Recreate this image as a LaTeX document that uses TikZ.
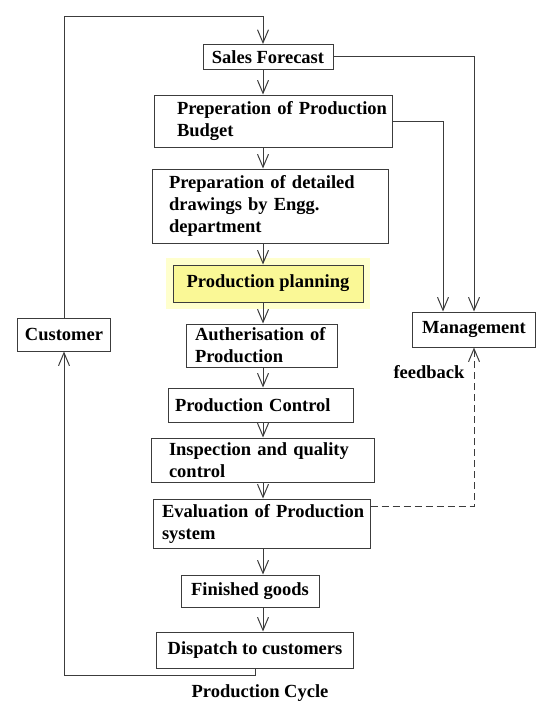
\documentclass[tikz,border=0pt]{standalone}
\usepackage{fontspec}
\setmainfont{Liberation Serif}
\usetikzlibrary{arrows.meta,positioning}
\definecolor{linegray}{RGB}{60,60,60}
\definecolor{planyellow}{RGB}{250,248,150}
\definecolor{planglow}{RGB}{255,255,205}

\begin{document}
\begin{tikzpicture}[x=1pt, y=-1pt, >={Straight Barb[length=13pt,width=11pt]},
    every node/.style={font=\bfseries\fontsize{18.5}{22}\selectfont},
    stage/.style={draw=linegray, line width=1pt, fill=white, inner sep=0pt, align=left},
    flow/.style={->, draw=linegray, line width=1pt}]
\useasboundingbox (0,0) rectangle (555,709);

    % Main column
    \node[stage, minimum width=130pt, minimum height=25pt] (sales) at (268,57) {Sales Forecast};
    \node[stage, minimum width=238pt, minimum height=52pt, text width=192pt] (budget) at (273,121) {\mbox{Preperation of Production}\\Budget};
    \node[stage, minimum width=236pt, minimum height=74pt, text width=202pt] (drawings) at (270,206) {Preparation of detailed\\drawings by Engg.\\department};
    \node[stage, fill=planyellow, preaction={draw=planglow, line width=14pt}, minimum width=190pt, minimum height=37pt] (planning) at (268,283.5) {Production planning};
    \node[stage, minimum width=151pt, minimum height=43pt, text width=133pt] (auth) at (261.5,345.5) {\mbox{Autherisation of}\\Production};
    \node[stage, minimum width=185pt, minimum height=34pt, text width=171pt] (control) at (260.5,405) {Production Control};
    \node[stage, minimum width=223pt, minimum height=44pt, text width=187pt] (inspection) at (262.5,460) {Inspection and quality\\control};
    \node[stage, minimum width=217pt, minimum height=49pt, text width=199pt] (evaluation) at (261.5,523.5) {\mbox{Evaluation of Production}\\system};
    \node[stage, minimum width=138pt, minimum height=32pt] (goods) at (250,591) {Finished goods};
    \node[stage, minimum width=197pt, minimum height=36pt] (dispatch) at (255,650) {Dispatch to customers};

    % Side boxes
    \node[stage, minimum width=93pt, minimum height=33pt] (customer) at (64,334.5) {Customer};
    \node[stage, minimum width=123pt, minimum height=35pt] (management) at (474,329.5) {Management};

    % Labels
    \node (feedback) at (429,372) {feedback};
    \node (caption) at (260,693) {Production Cycle};

    \coordinate (spine) at (263,0);
    \coordinate (top) at (263,17);
    \coordinate (bottom) at (64,675);

    % Arrows down the column
    \foreach \a/\b in {sales/budget, budget/drawings, drawings/planning, planning/auth, auth/control,
        control/inspection, inspection/evaluation, evaluation/goods, goods/dispatch}
        \draw[flow] (\a.south -| spine) -- (\b.north -| spine);

    % Return loop through the customer
    \draw[flow] (dispatch.south) |- (bottom) -- (customer.south);
    \draw[flow] (customer.north) |- (top) -- (sales.north -| top);

    % To management
    \draw[flow] (sales.east) -| (management.north);
    \draw[flow] (budget.east) -| ([xshift=-31pt]management.north);
    \draw[flow, dash pattern=on 7pt off 4pt] ([yshift=17pt]evaluation.east) -| (management.south);
\end{tikzpicture}
\end{document}
